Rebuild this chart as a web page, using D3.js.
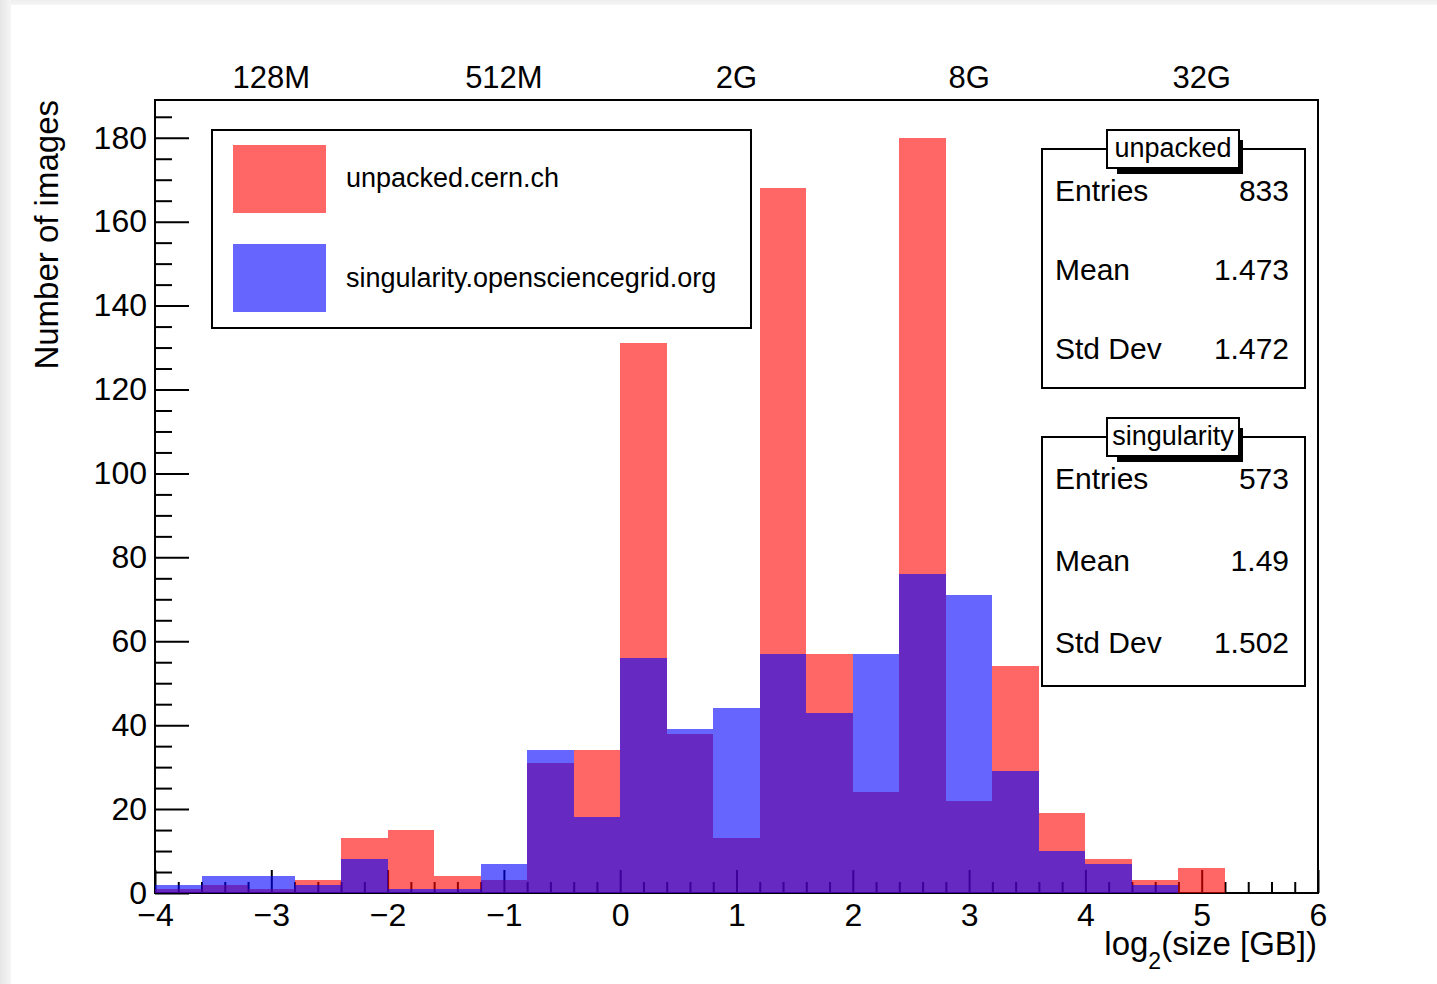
<!DOCTYPE html>
<html>
<head>
<meta charset="utf-8">
<script src="https://cdn.jsdelivr.net/npm/d3@7"></script>
<style>
  body { margin: 0; background: #fff; }
  svg { display: block; font-family: "Liberation Sans", Arial, sans-serif; }
</style>
</head>
<body>
<div id="chart"></div>
<script>
// bins of 0.4 from -4 to 6
let bin_edges = d3.range(25).map(function(i){ return -4 + i * 0.4 })

let unpacked_counts = [1, 2, 1, 3, 13, 15, 4, 3, 31, 34, 131, 38, 13, 168, 57, 24, 180, 22, 54, 19, 8, 3, 6, 0, 0]
let singularity_counts = [2, 4, 4, 2, 8, 1, 1, 7, 34, 18, 56, 39, 44, 57, 43, 57, 76, 71, 29, 10, 7, 2, 0, 0, 0]

let top_labels = [{'x': -3, 'label': '128M'}, {'x': -1, 'label': '512M'}, {'x': 1, 'label': '2G'}, {'x': 3, 'label': '8G'}, {'x': 5, 'label': '32G'}]

let legend_items = [{'name': 'unpacked.cern.ch', 'color': '#ff0000'}, {'name': 'singularity.opensciencegrid.org', 'color': '#0000ff'}]

let stats = [
    {'title': 'unpacked', 'rows': [['Entries', '833'], ['Mean', '1.473'], ['Std Dev', '1.472']]},
    {'title': 'singularity', 'rows': [['Entries', '573'], ['Mean', '1.49'], ['Std Dev', '1.502']]}
]

let width = 1437, height = 984

let svg = d3.select('#chart').append('svg')
    .attr('width', width)
    .attr('height', height)

// grey edge at top / left like the screenshot
let defs = svg.append('defs')
let gl = defs.append('linearGradient').attr('id', 'edge-left').attr('x1', '0%').attr('x2', '100%')
gl.append('stop').attr('offset', '0%').attr('stop-color', '#e6e6e6')
gl.append('stop').attr('offset', '100%').attr('stop-color', '#f6f6f6')
let gt = defs.append('linearGradient').attr('id', 'edge-top').attr('x1', '0%').attr('x2', '0%').attr('y1', '0%').attr('y2', '100%')
gt.append('stop').attr('offset', '0%').attr('stop-color', '#eeeeee')
gt.append('stop').attr('offset', '100%').attr('stop-color', '#f6f6f6')

svg.append('rect').attr('x', 0).attr('y', 0).attr('width', width).attr('height', 5).attr('fill', 'url(#edge-top)')
svg.append('rect').attr('x', 0).attr('y', 0).attr('width', 11).attr('height', height).attr('fill', 'url(#edge-left)')

let x = d3.scaleLinear().domain([-4, 6]).range([155, 1318])
let y = d3.scaleLinear().domain([0, 189]).range([893, 100])

// frame
svg.append('rect')
    .attr('x', x(-4)).attr('y', y(189))
    .attr('width', x(6) - x(-4)).attr('height', y(0) - y(189))
    .attr('fill', 'none').attr('stroke', '#000').attr('stroke-width', 2)

// axes first, histograms drawn on top with alpha (like ROOT)
let xAxis = svg.append('g')
    .attr('transform', 'translate(0,' + y(0) + ')')
    .call(d3.axisBottom(x).tickValues(d3.range(-4, 7)).tickSize(-23).tickPadding(10))
xAxis.select('.domain').remove()
xAxis.selectAll('line').attr('stroke-width', 2)
xAxis.selectAll('text').attr('font-size', 32).attr('fill', '#000').attr('font-family', '"Liberation Sans", Arial, sans-serif')

let xMinor = svg.append('g')
    .attr('transform', 'translate(0,' + y(0) + ')')
    .call(d3.axisBottom(x).tickValues(d3.range(-4, 6.01, 0.2).filter(function(v){ return Math.abs(v - Math.round(v)) > 0.01 })).tickSize(-11).tickFormat(''))
xMinor.select('.domain').remove()
xMinor.selectAll('line').attr('stroke-width', 2)

let yAxis = svg.append('g')
    .attr('transform', 'translate(' + x(-4) + ',0)')
    .call(d3.axisLeft(y).tickValues(d3.range(0, 181, 20)).tickSize(-34).tickPadding(8))
yAxis.select('.domain').remove()
yAxis.selectAll('line').attr('stroke-width', 2)
yAxis.selectAll('text').attr('font-size', 32).attr('fill', '#000').attr('font-family', '"Liberation Sans", Arial, sans-serif')

let yMinor = svg.append('g')
    .attr('transform', 'translate(' + x(-4) + ',0)')
    .call(d3.axisLeft(y).tickValues(d3.range(0, 186, 5).filter(function(v){ return v % 20 != 0 })).tickSize(-17).tickFormat(''))
yMinor.select('.domain').remove()
yMinor.selectAll('line').attr('stroke-width', 2)

// histograms
function drawHist(counts, color){
    svg.append('g').selectAll('rect')
        .data(counts.map(function(c, i){ return {'x0': bin_edges[i], 'x1': bin_edges[i] + 0.4, 'value': c} }).filter(function(d){ return d.value > 0 }))
        .enter()
        .append('rect')
        .attr('x', function(d){ return x(d.x0) })
        .attr('y', function(d){ return y(d.value) })
        .attr('width', function(d){ return x(d.x1) - x(d.x0) })
        .attr('height', function(d){ return y(0) - y(d.value) })
        .attr('fill', color)
        .attr('fill-opacity', 0.6)
        .attr('shape-rendering', 'crispEdges')
}

drawHist(unpacked_counts, '#ff0000')
drawHist(singularity_counts, '#0000ff')

// top size labels
svg.selectAll('.top_label')
    .data(top_labels)
    .enter()
    .append('text')
    .attr('x', function(d){ return x(d.x) })
    .attr('y', 88)
    .attr('text-anchor', 'middle')
    .attr('font-size', 31)
    .text(function(d){ return d.label })

// axis titles
svg.append('text')
    .attr('transform', 'translate(58,100) rotate(-90)')
    .attr('text-anchor', 'end')
    .attr('font-size', 33)
    .text('Number of images')

let xt = svg.append('text')
    .attr('x', 1317)
    .attr('y', 955)
    .attr('text-anchor', 'end')
    .attr('font-size', 33)
xt.append('tspan').text('log')
xt.append('tspan').attr('font-size', 23).attr('dy', 14).text('2')
xt.append('tspan').attr('dy', -14).text('(size [GB])')

// legend
let legend = svg.append('g')
legend.append('rect')
    .attr('x', 212).attr('y', 130).attr('width', 539).attr('height', 198)
    .attr('fill', '#fff').attr('stroke', '#000').attr('stroke-width', 2)

legend.selectAll('.swatch')
    .data(legend_items)
    .enter()
    .append('rect')
    .attr('x', 233)
    .attr('y', function(d, i){ return 145 + i * 99 })
    .attr('width', 93)
    .attr('height', 68)
    .attr('fill', function(d){ return d.color })
    .attr('fill-opacity', 0.6)

legend.selectAll('.legend_text')
    .data(legend_items)
    .enter()
    .append('text')
    .attr('x', 346)
    .attr('y', function(d, i){ return 187 + i * 100 })
    .attr('font-size', 27)
    .text(function(d){ return d.name })

// stats boxes
stats.forEach(function(s, k){
    let top = k == 0 ? 149 : 437
    let boxh = k == 0 ? 239 : 249
    let step = k == 0 ? 79 : 82
    let g = svg.append('g')

    g.append('rect')
        .attr('x', 1042).attr('y', top).attr('width', 263).attr('height', boxh)
        .attr('fill', '#fff').attr('stroke', '#000').attr('stroke-width', 2)

    // title with shadow
    g.append('rect')
        .attr('x', 1117).attr('y', top - 9).attr('width', 126).attr('height', 34)
        .attr('fill', '#000')
    g.append('rect')
        .attr('x', 1107).attr('y', top - 19).attr('width', 132).attr('height', 38)
        .attr('fill', '#fff').attr('stroke', '#000').attr('stroke-width', 2)
    g.append('text')
        .attr('x', 1173).attr('y', top + 8)
        .attr('text-anchor', 'middle')
        .attr('font-size', 27)
        .text(s.title)

    g.selectAll('.name')
        .data(s.rows)
        .enter()
        .append('text')
        .attr('x', 1055)
        .attr('y', function(d, i){ return top + 52 + i * step })
        .attr('font-size', 30)
        .text(function(d){ return d[0] })

    g.selectAll('.val')
        .data(s.rows)
        .enter()
        .append('text')
        .attr('x', 1289)
        .attr('y', function(d, i){ return top + 52 + i * step })
        .attr('text-anchor', 'end')
        .attr('font-size', 30)
        .text(function(d){ return d[1] })
})
</script>
</body>
</html>
